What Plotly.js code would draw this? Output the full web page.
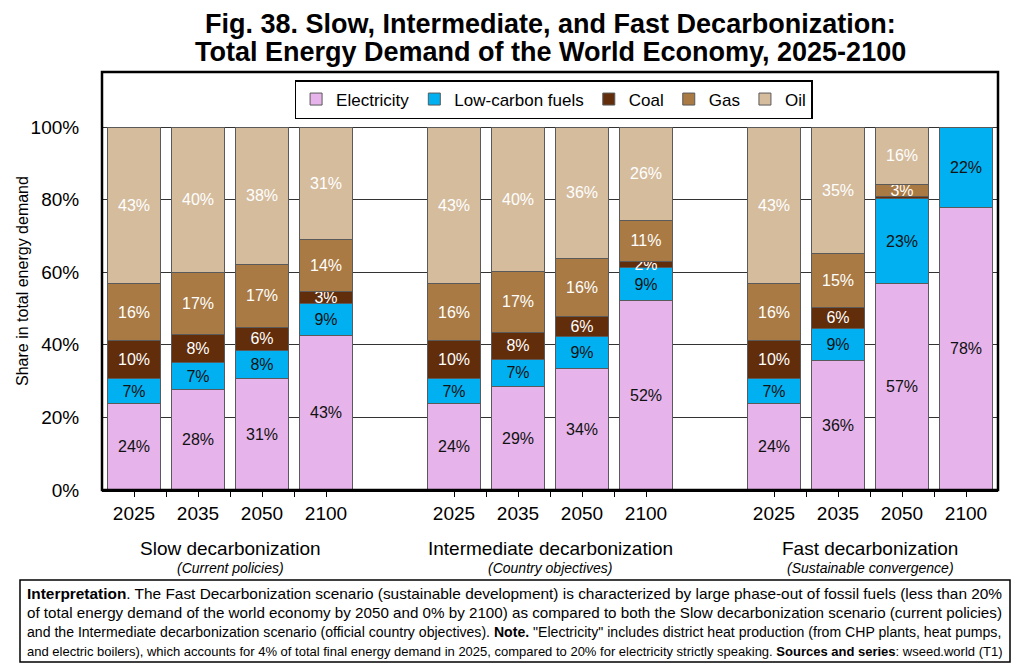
<!DOCTYPE html>
<html>
<head>
<meta charset="utf-8">
<script src="https://cdn.plot.ly/plotly-3.0.1.min.js"></script>
<style>html,body{margin:0;padding:0;background:#fff;}#chart{width:1024px;height:670px;}</style>
</head>
<body>
<div id="chart"></div>
<script>
// ---- data ----
var years = ['2025', '2035', '2050', '2100'];
var scenarios = ['Slow decarbonization', 'Intermediate decarbonization', 'Fast decarbonization'];
var subtitles = ['(Current policies)', '(Country objectives)', '(Sustainable convergence)'];
var seriesNames = ['Electricity', 'Low-carbon fuels', 'Coal', 'Gas', 'Oil'];
// shares (%) per bar: Slow 2025..2100, Intermediate 2025..2100, Fast 2025..2100
var electricity = [23.7, 27.6, 30.6, 42.7,  23.7, 28.6, 33.6, 52.1,  23.7, 35.6, 56.8, 77.8];
var lowCarbon   = [7.0, 7.4, 7.9, 8.6,      7.0, 7.3, 8.6, 9.1,      7.0, 8.9, 23.4, 22.2];
var coal        = [10.4, 7.9, 6.4, 3.3,     10.4, 7.6, 5.7, 1.8,     10.4, 5.9, 0.7, 0];
var gas         = [15.7, 17.0, 17.1, 14.4,  15.7, 16.7, 15.8, 11.3,  15.7, 14.8, 3.2, 0];
var oil         = [43.2, 40.1, 38.0, 31.0,  43.2, 39.8, 36.3, 25.7,  43.2, 34.8, 15.9, 0];
var yTicks = [0, 20, 40, 60, 80, 100];
var titleLines = [
  'Fig. 38. Slow, Intermediate, and Fast Decarbonization:',
  'Total Energy Demand of the World Economy, 2025-2100'
];
var noteLines = [
  '<b>Interpretation</b>. The Fast Decarbonization scenario (sustainable development) is characterized by large phase-out of fossil fuels (less than 20%',
  'of total energy demand of the world economy by 2050 and 0% by 2100) as compared to both the Slow decarbonization scenario (current policies)',
  'and the Intermediate decarbonization scenario (official country objectives). <b>Note.</b> "Electricity" includes district heat production (from CHP plants, heat pumps,',
  'and electric boilers), which accounts for 4% of total final energy demand in 2025, compared to 20% for electricity strictly speaking. <b>Sources and series</b>: wseed.world (T1)'
];

// ---- styles ----
var colors = ['#E6B4EA', '#00B0F0', '#622D0A', '#A97A43', '#D5BC9D'];
var textColors = ['#111', '#111', '#fff', '#fff', '#fff'];
var FONT = 'Liberation Sans, Arial, sans-serif';

// plot-area pixel frame (used to place paper-referenced annotations)
var PL = 102, PR = 998, PT = 72, PB = 490;
var PW = PR - PL, PH = PB - PT;
function px2x(px) { return (px - PL) / PW; }
function py2y(py) { return (PB - py) / PH; }

// bar positions: 4 bars per scenario, one-slot gap between scenarios
var GROUP_STEP = years.length + 1;
var xs = [], tickVals = [], tickText = [];
scenarios.forEach(function (s, g) {
  years.forEach(function (y, i) {
    var x = g * GROUP_STEP + i;
    xs.push(x);
    tickVals.push(x); tickText.push(y);
    if (i < years.length - 1) { tickVals.push(x + 0.5); tickText.push(''); }
  });
});

var allSeries = [electricity, lowCarbon, coal, gas, oil];
var traces = allSeries.map(function (vals, k) {
  return {
    type: 'bar',
    name: seriesNames[k],
    x: xs,
    y: vals,
    width: 0.84,
    marker: { color: colors[k], line: { color: '#5a5a5a', width: 1 } },
    text: vals.map(function (v) { return v >= 1 ? Math.round(v) + '%' : ''; }),
    textposition: 'inside',
    insidetextanchor: 'middle',
    textangle: 0,
    constraintext: 'none',
    insidetextfont: { family: FONT, size: 16, color: textColors[k] },
    hoverinfo: 'skip'
  };
});

// measure a line of (possibly <b>-marked) text to fit the note box width
var ctx = document.createElement('canvas').getContext('2d');
function measure(html, size) {
  var parts = html.split(/(<b>.*?<\/b>)/);
  var w = 0;
  parts.forEach(function (p) {
    if (!p) return;
    var bold = /^<b>/.test(p);
    var t = p.replace(/<\/?b>/g, '');
    ctx.font = (bold ? 'bold ' : '') + size + 'px "Liberation Sans", Arial, sans-serif';
    w += ctx.measureText(t).width;
  });
  return w;
}

var annotations = [];
titleLines.forEach(function (t, i) {
  annotations.push({ xref: 'paper', yref: 'paper', x: 0.5, y: py2y(i === 0 ? 24 : 52), text: '<b>' + t + '</b>',
    showarrow: false, xanchor: 'center', yanchor: 'middle',
    font: { family: FONT, size: 27, color: '#000' } });
});
scenarios.forEach(function (s, g) {
  var cx = g * GROUP_STEP + (years.length - 1) / 2;
  annotations.push({ xref: 'x', yref: 'paper', x: cx, y: py2y(548), text: s, showarrow: false,
    xanchor: 'center', yanchor: 'middle', font: { family: FONT, size: 19, color: '#000' } });
  annotations.push({ xref: 'x', yref: 'paper', x: cx, y: py2y(568), text: '<i>' + subtitles[g] + '</i>', showarrow: false,
    xanchor: 'center', yanchor: 'middle', font: { family: FONT, size: 14, color: '#000' } });
});
// y-axis title
annotations.push({ xref: 'paper', yref: 'paper', x: px2x(22), y: py2y(281), text: 'Share in total energy demand',
  textangle: -90, showarrow: false, xanchor: 'center', yanchor: 'middle',
  font: { family: FONT, size: 16, color: '#000' } });
// note lines, each fitted to the box width
var NOTE_W = 976, lineY0 = 593, lineStep = 19.4;
noteLines.forEach(function (t, i) {
  var size = Math.min(15.6, 15 * NOTE_W / measure(t, 15));
  annotations.push({ xref: 'paper', yref: 'paper', x: px2x(25), y: py2y(lineY0 + i * lineStep),
    text: t, showarrow: false, xanchor: 'left', yanchor: 'middle', align: 'left',
    font: { family: FONT, size: size, color: '#000' } });
});

var layout = {
  width: 1024, height: 670,
  margin: { l: PL, r: 1024 - PR, t: PT, b: 670 - PB },
  paper_bgcolor: '#fff', plot_bgcolor: '#fff',
  barmode: 'stack',
  showlegend: true,
  font: { family: FONT, color: '#000' },
  xaxis: {
    range: [-0.5, 13.5], tickmode: 'array', tickvals: tickVals, ticktext: tickText,
    ticks: 'outside', ticklen: 5, tickcolor: '#000', tickwidth: 1,
    tickfont: { family: FONT, size: 19, color: '#000' },
    showgrid: false, zeroline: false, showline: true, linecolor: '#000', linewidth: 2,
    fixedrange: true
  },
  yaxis: {
    range: [0, 115.15], tickmode: 'array', tickvals: yTicks,
    ticktext: yTicks.map(function (v) { return v + '%'; }),
    ticks: 'outside', ticklen: 18, tickcolor: 'rgba(0,0,0,0)',
    tickfont: { family: FONT, size: 19, color: '#000' },
    showgrid: true, gridcolor: '#333', gridwidth: 1, zeroline: false, showline: false,
    fixedrange: true
  },
  legend: {
    orientation: 'h', traceorder: 'normal',
    x: 0.504, xanchor: 'center', y: py2y(80), yanchor: 'top',
    bgcolor: '#fff', bordercolor: '#000', borderwidth: 1.5,
    font: { family: FONT, size: 17, color: '#000' }
  },
  shapes: [
    { type: 'rect', xref: 'paper', yref: 'paper', x0: 0, x1: 1, y0: 0, y1: 1,
      line: { color: '#000', width: 2.5 }, layer: 'above' },
    { type: 'rect', xref: 'paper', yref: 'paper',
      x0: px2x(20), x1: px2x(1010), y0: py2y(662), y1: py2y(580),
      line: { color: '#000', width: 1.5 } }
  ],
  annotations: annotations
};

Plotly.newPlot('chart', traces, layout, { displayModeBar: false, staticPlot: true });
</script>
</body>
</html>
